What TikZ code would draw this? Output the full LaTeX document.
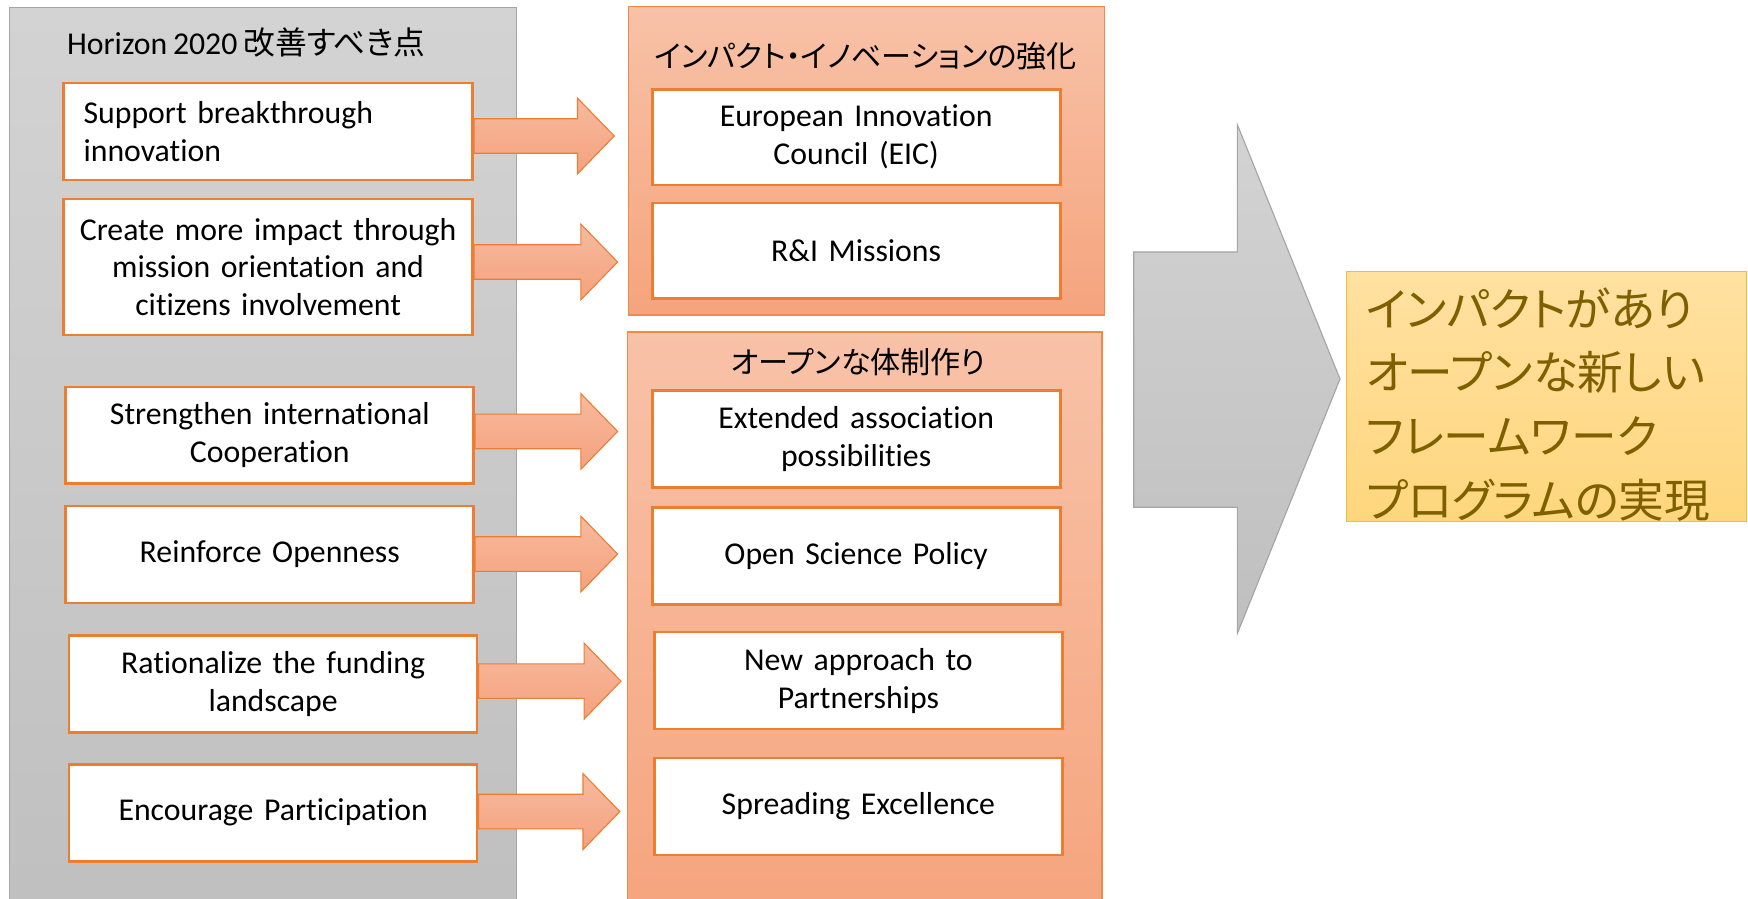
\documentclass[tikz,border=0pt]{standalone}
\usepackage{fontspec}
\setmainfont{Carlito}[Ligatures=NoCommon, WordSpace=0.8]
\newfontfamily\jp{Noto Sans CJK JP}[RawFeature=+palt]
\usetikzlibrary{calc}
\definecolor{orline}{HTML}{ED7D31}
\definecolor{orpanelline}{HTML}{F0894A}
\definecolor{ortop}{HTML}{F8C2A8}
\definecolor{orbot}{HTML}{F5A47D}
\definecolor{arrtop}{HTML}{F7BA9E}
\definecolor{arrbot}{HTML}{F4A27E}
\definecolor{grtop}{HTML}{D3D3D3}
\definecolor{grbot}{HTML}{BFBFBF}
\definecolor{grline}{HTML}{A5A5A5}
\definecolor{yeltop}{HTML}{FFE1A1}
\definecolor{yelbot}{HTML}{FED67D}
\definecolor{yelline}{HTML}{F2C029}
\definecolor{yeltext}{HTML}{7F6000}
\newcommand\blockarr[2]{%
  \path[arrowshape] let \p1=(#1), \p2=(#2) in
    (\x1,\y2+15.5pt) -- (\x2-33pt,\y2+15.5pt) -- (\x2-33pt,\y2+34pt) -- (\x2,\y2)
    -- (\x2-33pt,\y2-34pt) -- (\x2-33pt,\y2-15.5pt) -- (\x1,\y2-15.5pt) -- cycle;}
\begin{document}
\begin{tikzpicture}[x=1pt,y=-1pt,
  greypanel/.style={draw=grline, line width=1.2pt, top color=grtop, bottom color=grbot,
    rectangle, anchor=north west, inner sep=0pt},
  orpanel/.style={draw=orpanelline, line width=1.4pt, top color=ortop, bottom color=orbot,
    rectangle, anchor=north west, inner sep=0pt},
  itembox/.style={draw=orline, line width=2.4pt, fill=white, rectangle,
    minimum width=366pt, minimum height=87pt, inner xsep=6pt, inner ysep=0pt,
    text width=354pt, align=center, font=\fontsize{28.5}{34}\selectfont},
  leftbox/.style={itembox, inner xsep=18pt, text width=331pt, align=left},
  jptitle/.style={font=\jp\fontsize{27}{32}\selectfont, inner sep=0pt},
  arrowshape/.style={draw=orline, line width=1pt, top color=arrtop, bottom color=arrbot},
  bigarrow/.style={draw=grline, line width=1pt, top color=grtop, bottom color=grbot},
  goalbox/.style={draw=yelline, line width=1.4pt, top color=yeltop, bottom color=yelbot,
    rectangle, anchor=north west, minimum width=359pt, minimum height=224pt, inner sep=0pt},
  goaltext/.style={anchor=west, inner sep=0pt, text width=330pt, align=left, text=yeltext,
    font=\jp\fontsize{41}{57}\selectfont}
]
\useasboundingbox (0,0) rectangle (1568,806.4);

% grey panel
\node[greypanel, minimum width=455pt, minimum height=830pt] (G) at (8,6) {};
\node[anchor=west, inner sep=0pt, font=\fontsize{28.5}{34}\selectfont] (Gt) at (60,38)
  {Horizon 2020 {\jp\fontsize{28.5}{32}\selectfont 改善すべき点}};

% orange panels
\node[orpanel, minimum width=427pt, minimum height=277pt] (P1) at (563,5) {};
\node[jptitle] (P1t) at (776.5,50) {インパクト・イノベーションの強化};
\node[orpanel, minimum width=426pt, minimum height=530pt] (P2) at (562,297) {};
\node[jptitle] (P2t) at (770,325) {オープンな体制作り};

% left boxes
\node[leftbox, minimum width=367pt] (B1) at (240.5,118) {Support breakthrough\\innovation};
\node[itembox, minimum width=367pt, minimum height=122pt] (B2) at (240.5,239.5) {Create more impact through\\mission orientation and\\citizens involvement};
\node[itembox] (B3) at (242,390.5) {Strengthen international\\Cooperation};
\node[itembox] (B4) at (242,497.5) {Reinforce Openness\hspace*{12pt}};
\node[itembox] (B5) at (245,613.5) {Rationalize the funding\\landscape};
\node[itembox] (B6) at (245,729) {Encourage Participation\hspace*{5pt}};

% right boxes
\node[itembox, minimum height=86pt] (E1) at (768,123) {European Innovation\\Council (EIC)};
\node[itembox, minimum height=86pt] (E2) at (768,225) {R\&I Missions\hspace*{10pt}};
\node[itembox] (F1) at (768,393.5) {Extended association\\possibilities};
\node[itembox] (F2) at (768,499) {Open Science Policy\hspace*{27pt}};
\node[itembox] (F3) at (770,610.5) {New approach to\\Partnerships};
\node[itembox] (F4) at (770,723.5) {Spreading Excellence\hspace*{23pt}};

% arrow tips
\coordinate (T1) at (551,122);
\coordinate (T2) at (554,235);
\coordinate (T3) at (554,387);
\coordinate (T4) at (554,497);
\coordinate (T5) at (557,611);
\coordinate (T6) at (556,728);
\blockarr{B1.east}{T1}
\blockarr{B2.east}{T2}
\blockarr{B3.east}{T3}
\blockarr{B4.east}{T4}
\blockarr{B5.east}{T5}
\blockarr{B6.east}{T6}

% big grey arrow
\path[bigarrow] (1017,226) -- (1110,226) -- (1110,112) -- (1202,340) -- (1110,568)
  -- (1110,455) -- (1017,455) -- cycle;

% goal box
\node[goalbox] (Y) at (1207,243) {};
\node[goaltext] (Yt) at ([xshift=18pt,yshift=-7pt]Y.west) {インパクトがあり\\オープンな新しい\\フレームワーク\\プログラムの実現};
\end{tikzpicture}
\end{document}
